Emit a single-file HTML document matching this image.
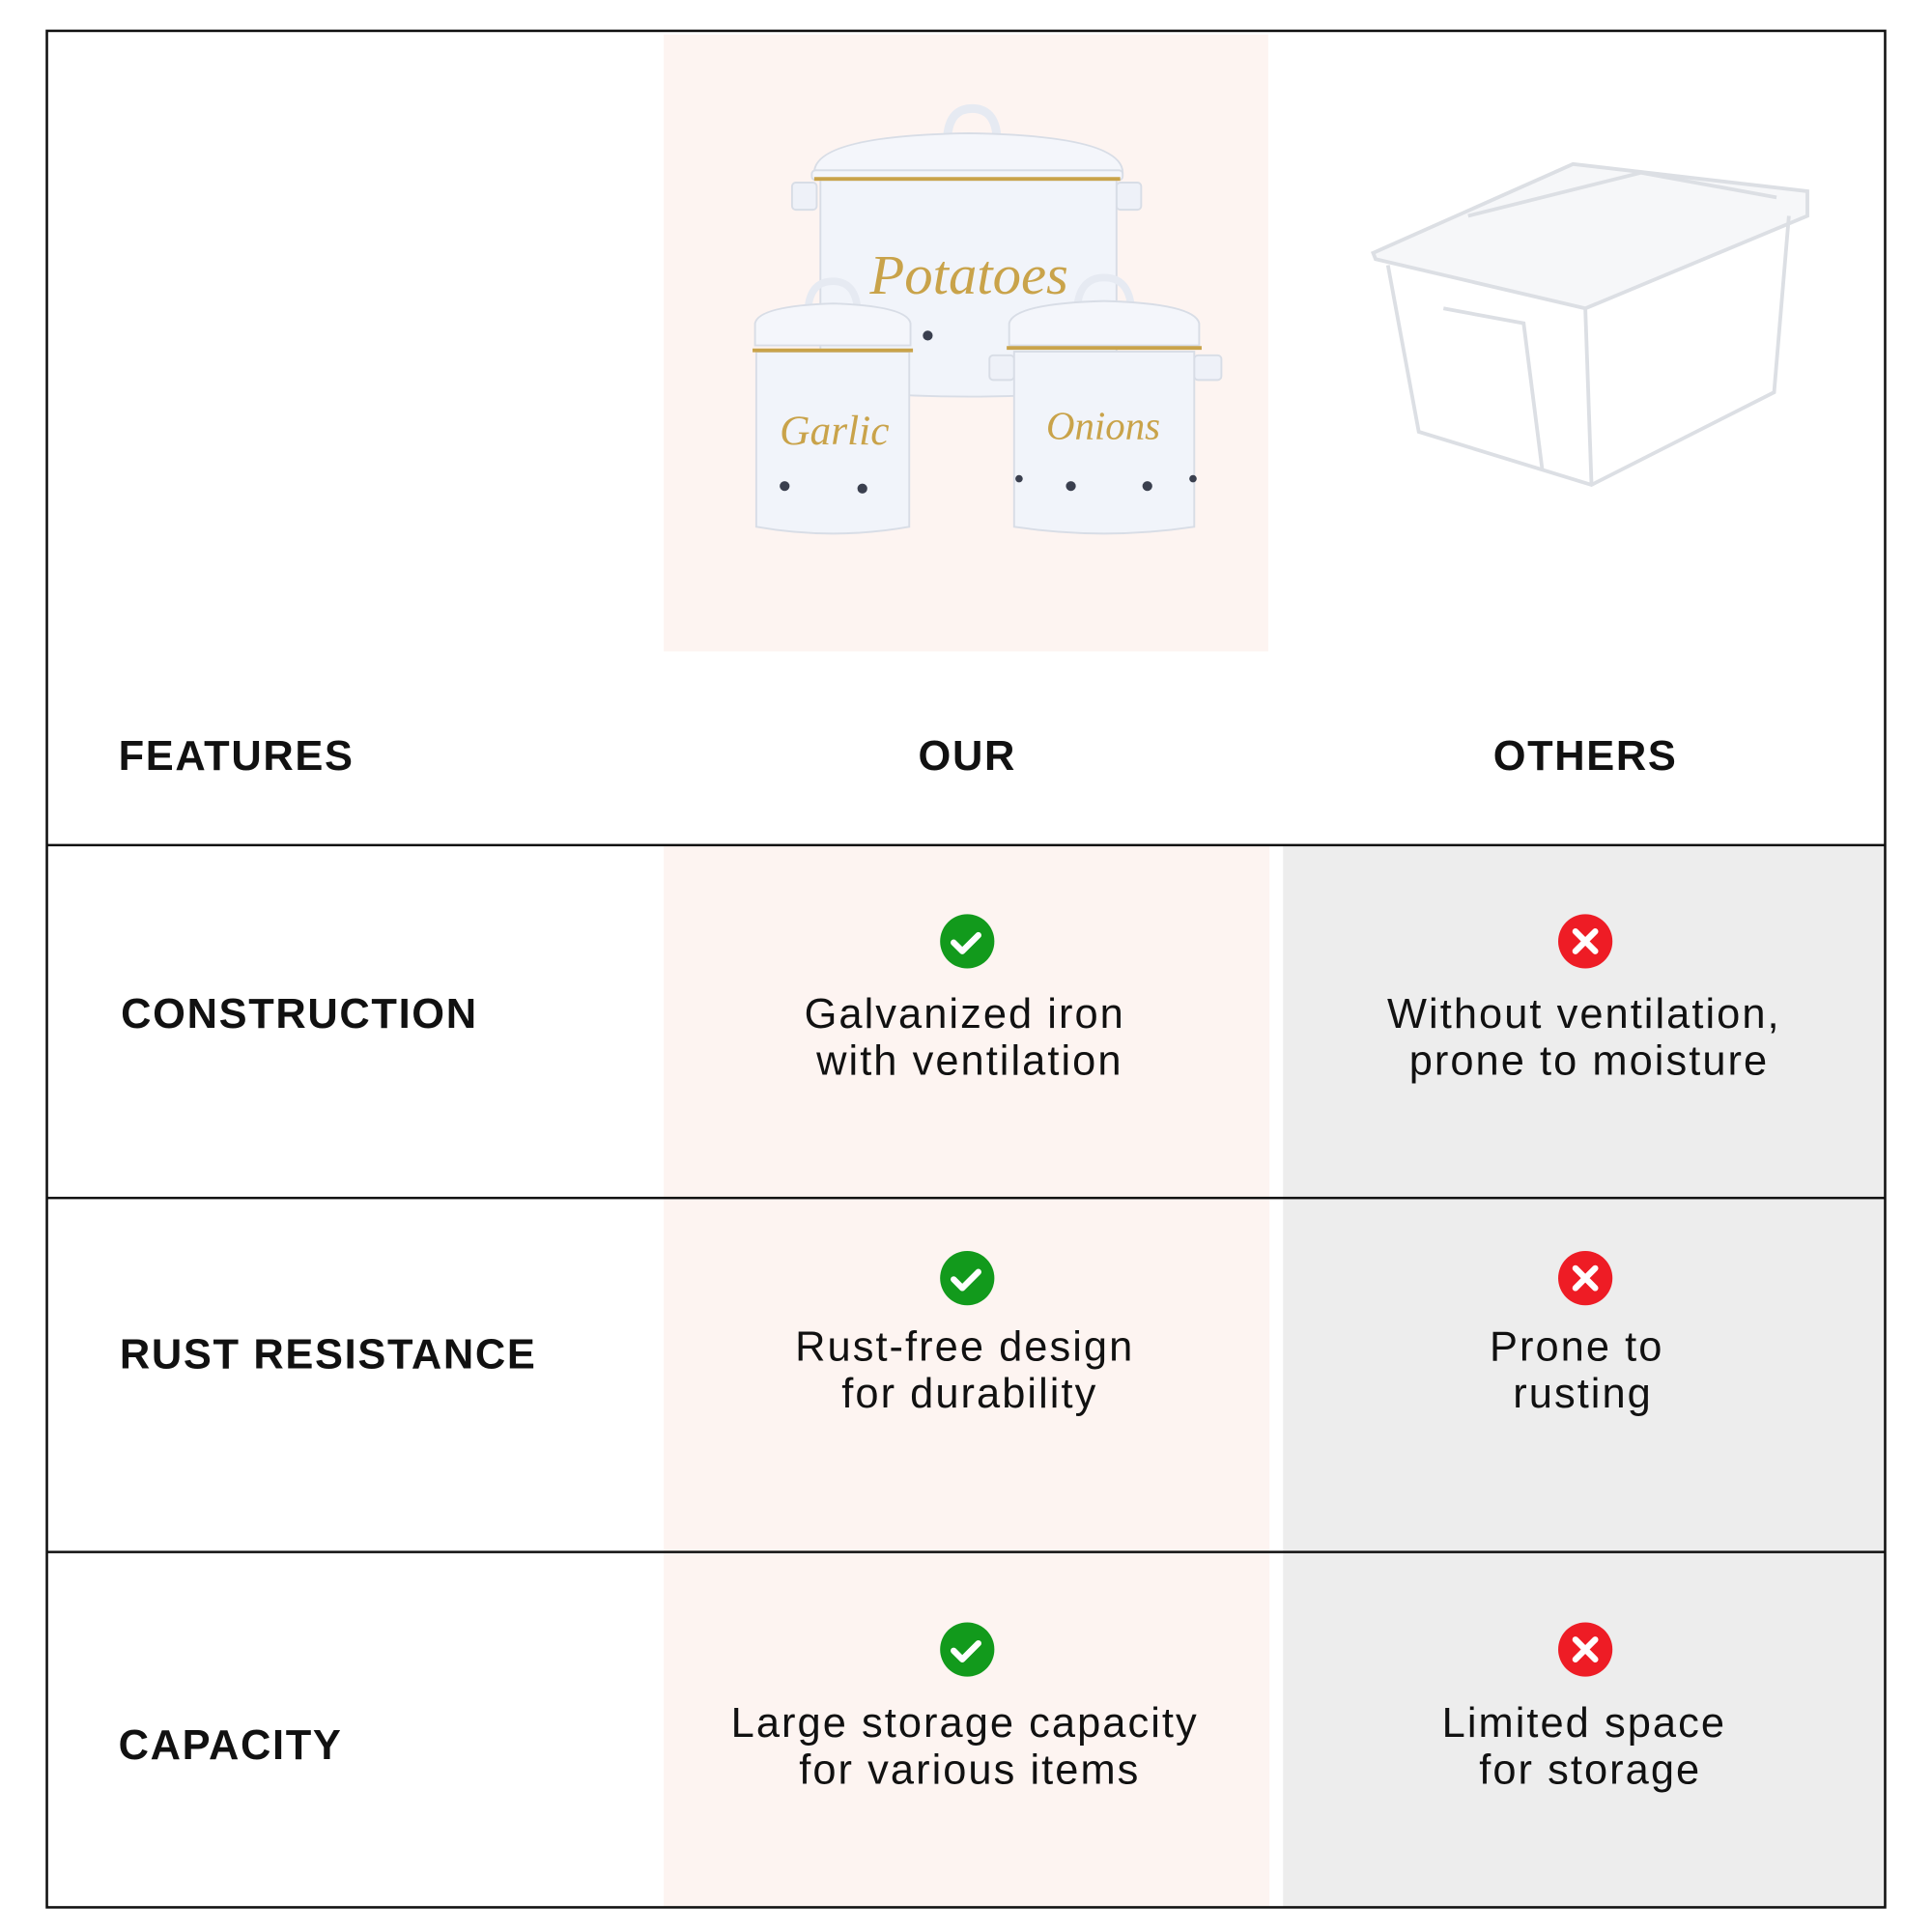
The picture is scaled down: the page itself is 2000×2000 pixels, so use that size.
<!DOCTYPE html>
<html><head><meta charset="utf-8"><style>html,body{margin:0;padding:0;background:#fff}svg{display:block}</style></head>
<body>
<svg width="2000" height="2000" viewBox="0 0 1566 1566" xmlns="http://www.w3.org/2000/svg" font-family="Liberation Sans, sans-serif">
<rect width="1566" height="1566" fill="#fff"/>
<rect x="538" y="28" width="490" height="500" fill="#fdf4f1"/>
<rect x="538" y="686" width="491" height="860" fill="#fdf4f1"/>
<rect x="1040" y="686" width="488" height="860" fill="#ededed"/>
<g stroke="#d8dde6" stroke-width="1.5">
<path d="M768 110 Q770 88 788 88 Q806 88 808 110" fill="none" stroke="#e6eaf2" stroke-width="7"/>
<rect x="642" y="148" width="20" height="22" rx="3" fill="#eef1f8"/>
<rect x="905" y="148" width="20" height="22" rx="3" fill="#eef1f8"/>
<path d="M665 145 L665 315 Q785 328 905 315 L905 145 Z" fill="#f1f4fa"/>
<path d="M660 140 Q660 110 785 108 Q910 110 910 140 Z" fill="#f4f6fb"/>
<rect x="658" y="138" width="252" height="8" rx="3" fill="#f4f6fb"/>
<line x1="660" y1="145" x2="908" y2="145" stroke="#c9a34a" stroke-width="3"/>
<path d="M655 250 Q657 228 675 228 Q693 228 695 250" fill="none" stroke="#e6eaf2" stroke-width="6"/>
<path d="M613 285 L613 427 Q675 438 737 427 L737 285 Z" fill="#f1f4fa"/>
<path d="M612 280 L612 262 Q615 248 675 246 Q735 248 738 262 L738 280 Z" fill="#f4f6fb"/>
<line x1="610" y1="284" x2="740" y2="284" stroke="#c9a34a" stroke-width="3"/>
<path d="M873 250 Q875 225 895 225 Q915 225 917 250" fill="none" stroke="#e6eaf2" stroke-width="6"/>
<rect x="802" y="288" width="20" height="20" rx="3" fill="#eef1f8"/>
<rect x="968" y="288" width="22" height="20" rx="3" fill="#eef1f8"/>
<path d="M822 285 L822 427 Q895 438 968 427 L968 285 Z" fill="#f1f4fa"/>
<path d="M818 280 L818 262 Q822 246 895 244 Q968 246 972 262 L972 280 Z" fill="#f4f6fb"/>
<line x1="816" y1="282" x2="974" y2="282" stroke="#c9a34a" stroke-width="3"/>
</g>
<g fill="#3a3f4e"><circle cx="752" cy="272" r="4"/><circle cx="636" cy="394" r="4"/><circle cx="699" cy="396" r="4"/><circle cx="826" cy="388" r="3"/><circle cx="868" cy="394" r="4"/><circle cx="930" cy="394" r="4"/><circle cx="967" cy="388" r="3"/></g>
<g font-family="Liberation Serif, serif" font-style="italic" fill="#c9a34a">
<text x="705" y="238" font-size="46">Potatoes</text>
<text x="632" y="360" font-size="34">Garlic</text>
<text x="848" y="356" font-size="32">Onions</text>
</g>
<g fill="none" stroke="#dcdfe4" stroke-width="3">
<path d="M1113 205 L1275 133 L1465 155 L1465 175 L1285 250 L1115 210 Z" fill="#f6f7f9"/>
<path d="M1125 215 L1150 350 L1290 393 L1438 318 L1450 175"/>
<path d="M1285 250 L1290 393"/>
<path d="M1170 250 L1235 262 L1250 380"/>
<path d="M1190 175 L1330 140 L1440 160"/>
</g>
<g stroke="#111" stroke-width="2" fill="none">
<rect x="38" y="25" width="1490" height="1521"/>
<line x1="38" y1="685" x2="1528" y2="685"/>
<line x1="38" y1="971" x2="1528" y2="971"/>
<line x1="38" y1="1258" x2="1528" y2="1258"/>
</g>
<g font-weight="bold" font-size="34" fill="#111" letter-spacing="1.3">
<text x="96" y="624">FEATURES</text>
<text x="784" y="624" text-anchor="middle">OUR</text>
<text x="1285" y="624" text-anchor="middle">OTHERS</text>
<text x="98" y="833">CONSTRUCTION</text>
<text x="97" y="1109">RUST RESISTANCE</text>
<text x="96" y="1426">CAPACITY</text>
</g>
<g>
<circle cx="784" cy="763" r="22" fill="#129a1c"/><path d="M773 764 l7 7 l13 -13" stroke="#fff" stroke-width="5" fill="none" stroke-linecap="round" stroke-linejoin="round"/>
<circle cx="784" cy="1036" r="22" fill="#129a1c"/><path d="M773 1037 l7 7 l13 -13" stroke="#fff" stroke-width="5" fill="none" stroke-linecap="round" stroke-linejoin="round"/>
<circle cx="784" cy="1337" r="22" fill="#129a1c"/><path d="M773 1338 l7 7 l13 -13" stroke="#fff" stroke-width="5" fill="none" stroke-linecap="round" stroke-linejoin="round"/>
<circle cx="1285" cy="763" r="22" fill="#ee1c25"/><path d="M1277 755 l16 16 M1293 755 l-16 16" stroke="#fff" stroke-width="5" stroke-linecap="round"/>
<circle cx="1285" cy="1036" r="22" fill="#ee1c25"/><path d="M1277 1028 l16 16 M1293 1028 l-16 16" stroke="#fff" stroke-width="5" stroke-linecap="round"/>
<circle cx="1285" cy="1337" r="22" fill="#ee1c25"/><path d="M1277 1329 l16 16 M1293 1329 l-16 16" stroke="#fff" stroke-width="5" stroke-linecap="round"/>
</g>
<g font-size="34" fill="#111" text-anchor="middle" letter-spacing="1.6">
<text x="782" y="833">Galvanized iron</text>
<text x="786" y="871">with ventilation</text>
<text x="1284" y="833">Without ventilation,</text>
<text x="1288" y="871">prone to moisture</text>
<text x="782" y="1103">Rust-free design</text>
<text x="786" y="1141">for durability</text>
<text x="1278" y="1103">Prone to</text>
<text x="1283" y="1141">rusting</text>
<text x="782" y="1408">Large storage capacity</text>
<text x="786" y="1446">for various items</text>
<text x="1284" y="1408">Limited space</text>
<text x="1289" y="1446">for storage</text>
</g>
</svg>
</body></html>
